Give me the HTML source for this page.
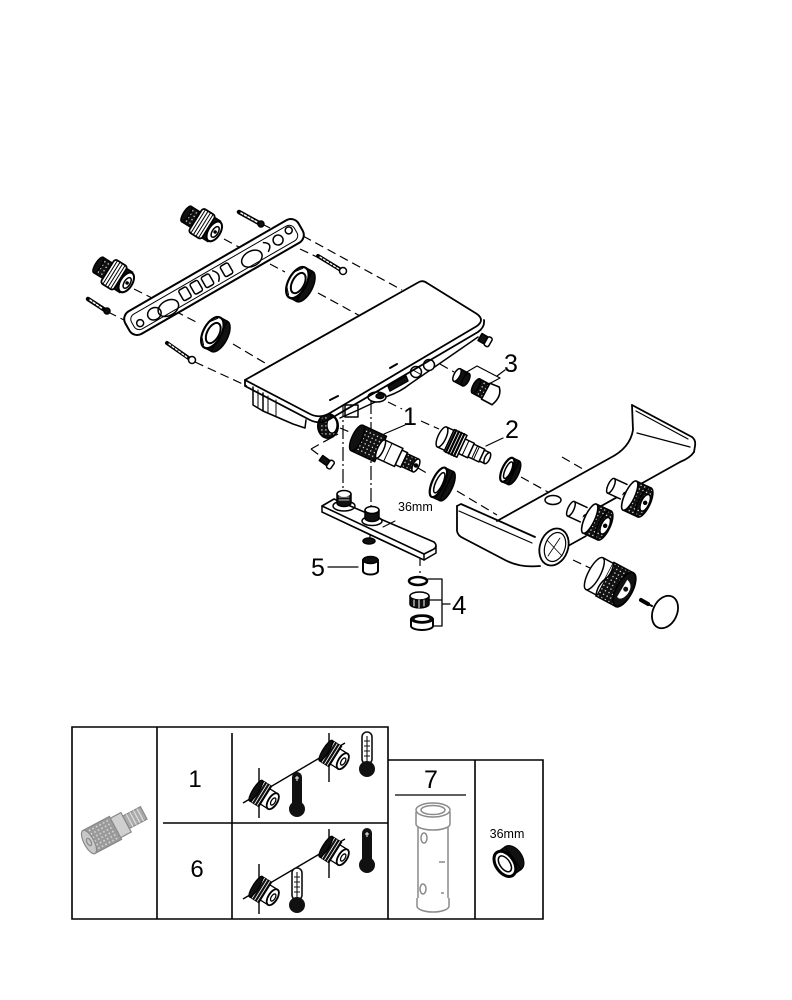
<!DOCTYPE html>
<html><head><meta charset="utf-8"><style>
html,body{margin:0;padding:0;background:#fff;}
svg{display:block;}
text{font-family:"Liberation Sans",Arial,sans-serif;}
</style></head><body>
<svg width="792" height="1000" viewBox="0 0 792 1000" xmlns="http://www.w3.org/2000/svg">
<defs>
<pattern id="kn" width="4" height="4" patternUnits="userSpaceOnUse"><rect width="4" height="4" fill="#111"/><rect x="1.3" y="1.3" width="1.2" height="1.2" fill="#fff"/></pattern>
<pattern id="kng" width="4" height="4" patternUnits="userSpaceOnUse"><rect width="4" height="4" fill="#9a9a9a"/><rect x="1.2" y="1.2" width="1.5" height="1.5" fill="#e0e0e0"/></pattern>
</defs>

<!-- dashed construction lines -->
<g fill="none" stroke="#000" stroke-width="1.2" stroke-dasharray="9 5">
<path d="M224,239 L252,254"/>
<path d="M270,264 L285,272"/>
<path d="M318,293 L362,317"/>
<path d="M134,289 L152,298"/>
<path d="M175,311 L198,323"/>
<path d="M233,344 L270,366"/>
<path d="M262,224 L282,234"/>
<path d="M303,236 L402,290"/>
<path d="M300,249 L317,257"/>
<path d="M108,312 L130,323"/>
<path d="M195,362 L247,386"/>
<path d="M440,364 L454,372"/>
<path d="M388,402 L402,409"/>
<path d="M421,421 L439,429"/>
<path d="M340,428 L352,433"/>
<path d="M418,468 L430,475"/>
<path d="M457,491 L497,515"/>
<path d="M521,477 L548,492"/>
<path d="M562,457 L607,483"/>
<path d="M311,449 L338,434"/>
<path d="M311,449 L319,455"/>
<path d="M573,560 L590,568"/>
<path d="M420,557 L420,573"/>
<path d="M370,533 L370,541"/>
</g>
<g fill="none" stroke="#000" stroke-width="1.2" stroke-dasharray="14 3 2 3">
<path d="M343,403 L343,492"/>
<path d="M371,400 L371,508"/>
</g>

<g fill="none" stroke="#000" stroke-width="1.5" stroke-linejoin="round" stroke-linecap="round">

<!-- backplate -->
<g transform="translate(214,277) rotate(-30)">
<rect x="-100" y="-13" width="200" height="26" rx="9" fill="#fff" stroke-width="2"/>
<rect x="-94" y="-8" width="188" height="17" rx="6" stroke-width="1"/>
<circle cx="-87" cy="3" r="3.5"/>
<ellipse cx="-70" cy="2" rx="7" ry="6"/>
<ellipse cx="-55" cy="4" rx="11" ry="7.5"/>
<rect x="-38" y="-6" width="9" height="12" rx="2"/>
<rect x="-25" y="-6" width="9" height="12" rx="2"/>
<rect x="-12" y="-6" width="9" height="12" rx="2"/>
<path d="M2,-6 q6,6 0,12"/>
<rect x="10" y="-6" width="9" height="12" rx="2"/>
<ellipse cx="42" cy="3" rx="11" ry="7.5"/>
<path d="M60,-5 q8,5 0,10"/>
<ellipse cx="74" cy="0" rx="5" ry="5"/>
<circle cx="88" cy="-3" r="3.5"/>
</g>

<!-- fittings A and B -->
<g transform="translate(188,215) rotate(32)">
<rect x="-2" y="-9" width="11" height="18" fill="url(#kn)" stroke="#000"/>
<ellipse cx="-2" cy="0" rx="3" ry="9" fill="#111"/>
<rect x="9" y="-14" width="15" height="28" rx="3" fill="#fff" stroke-width="1.8"/>
<path d="M12,-14 V14 M15,-14 V14 M18,-14 V14 M21,-14 V14" stroke-width="1"/>
<rect x="24" y="-12" width="7" height="24" fill="#111"/>
<ellipse cx="31" cy="0" rx="6" ry="11" fill="#fff" stroke-width="2"/>
<ellipse cx="32" cy="0" rx="3" ry="6"/>
<circle cx="32" cy="0" r="1" fill="#000"/>
</g>
<g transform="translate(100,266) rotate(32)">
<rect x="-2" y="-9" width="11" height="18" fill="url(#kn)" stroke="#000"/>
<ellipse cx="-2" cy="0" rx="3" ry="9" fill="#111"/>
<rect x="9" y="-14" width="15" height="28" rx="3" fill="#fff" stroke-width="1.8"/>
<path d="M12,-14 V14 M15,-14 V14 M18,-14 V14 M21,-14 V14" stroke-width="1"/>
<rect x="24" y="-12" width="7" height="24" fill="#111"/>
<ellipse cx="31" cy="0" rx="6" ry="11" fill="#fff" stroke-width="2"/>
<ellipse cx="32" cy="0" rx="3" ry="6"/>
<circle cx="32" cy="0" r="1" fill="#000"/>
</g>

<!-- screws -->
<g stroke="#000">
<path d="M239,212 L259,223" stroke-width="4.5"/>
<path d="M241,213 L257,222" stroke="#fff" stroke-width="1.5" stroke-dasharray="2 2"/>
<circle cx="261" cy="224" r="3" fill="#111"/>
<path d="M318,256 L341,270" stroke-width="4"/>
<path d="M320,257 L339,269" stroke="#fff" stroke-width="1.3" stroke-dasharray="2 2"/>
<circle cx="343" cy="271" r="3.5" fill="#fff" stroke-width="1.5"/>
<path d="M88,299 L105,310" stroke-width="4.5"/>
<path d="M90,300 L103,309" stroke="#fff" stroke-width="1.5" stroke-dasharray="2 2"/>
<circle cx="107" cy="311" r="3" fill="#111"/>
<path d="M167,343 L190,359" stroke-width="4"/>
<path d="M169,344 L188,358" stroke="#fff" stroke-width="1.3" stroke-dasharray="2 2"/>
<circle cx="192" cy="360" r="3.5" fill="#fff" stroke-width="1.5"/>
</g>

<!-- nuts -->
<g transform="translate(300,284) rotate(28)">
<ellipse cx="5" cy="0" rx="8" ry="17" fill="#111"/>
<rect x="-3" y="-17" width="8" height="34" fill="#111"/>
<ellipse cx="-3" cy="0" rx="9" ry="17" fill="#fff" stroke-width="2.2"/>
<ellipse cx="-2" cy="0" rx="6" ry="11" stroke-width="2"/>
<path d="M-10,-9 L-5,-15 M-10,9 L-5,15" stroke-width="1"/>
</g>
<g transform="translate(215,334) rotate(28)">
<ellipse cx="5" cy="0" rx="8" ry="17" fill="#111"/>
<rect x="-3" y="-17" width="8" height="34" fill="#111"/>
<ellipse cx="-3" cy="0" rx="9" ry="17" fill="#fff" stroke-width="2.2"/>
<ellipse cx="-2" cy="0" rx="6" ry="11" stroke-width="2"/>
<path d="M-10,-9 L-5,-15 M-10,9 L-5,15" stroke-width="1"/>
</g>

<!-- shelf body underside -->
<path d="M253,387 L253,405 L263,411 L263,393" fill="#fff"/>
<path d="M263,411 L293,424 L305,428 L306,420"/>
<path d="M258,390 L258,407" stroke-width="1"/>
<path d="M268,396 L268,412 M276,400 L276,416" stroke-width="1"/>
<ellipse cx="328" cy="426" rx="10" ry="12" fill="url(#kn)" stroke-width="2"/>
<ellipse cx="332" cy="425" rx="5" ry="8" fill="#fff" stroke-width="1.2"/>
<rect x="345" y="405" width="13" height="12" fill="#fff"/>
<path d="M340,418 L358,410 L388,396 Q400,392 410,384 L478,337"/>
<ellipse cx="377" cy="397" rx="9" ry="5" fill="#fff"/>
<ellipse cx="380" cy="396" rx="4" ry="2.5" fill="#111"/>
<path d="M388,386 L406,376 L408,381 L390,391 Z" fill="#111"/>
<circle cx="416" cy="372" r="5.5" fill="#fff"/>
<circle cx="429" cy="365" r="5.5" fill="#fff"/>
<path d="M413,370 L420,374" stroke-width="1"/>

<!-- shelf top -->
<path d="M245,380 L419,282 Q423,280 427,283 L477,314 Q485,320 477,326 L330,413 Q320,419 310,414 Z" fill="#fff" stroke-width="1.8"/>
<path d="M245,380 L245,386 L310,420 Q320,425 330,419 L478,332 Q485,327 484,320" stroke-width="1.8"/>
<path d="M330,400 L338,396 M390,368 L397,364" stroke-width="2"/>

<!-- small screw right of shelf -->
<g transform="translate(480,337) rotate(30)">
<rect x="0" y="-4" width="7" height="8" fill="#111"/>
<rect x="7" y="-5" width="5" height="10" rx="2" fill="#fff" stroke-width="1.5"/>
</g>

<!-- item 3 -->
<g transform="translate(457,375) rotate(28)">
<rect x="0" y="-7" width="10" height="14" fill="#111"/>
<ellipse cx="0" cy="0" rx="3" ry="7" fill="#fff"/>
<ellipse cx="10" cy="0" rx="3" ry="7" fill="#111"/>
</g>
<g transform="translate(476,386) rotate(28)">
<rect x="0" y="-8" width="11" height="16" fill="url(#kn)" stroke="#000"/>
<ellipse cx="0" cy="0" rx="3" ry="8" fill="#111"/>
<path d="M11,-9 L21,-10 Q28,-3 23,9 L11,9 Z" fill="#fff" stroke-width="1.6"/>
</g>
<path d="M465,373 L477,366 L500,378 L487,385 M497,376 L505,370" stroke-width="1.2"/>

<!-- cartridge 1 -->
<g transform="translate(357,438) rotate(25)">
<rect x="0" y="-14" width="26" height="28" fill="url(#kn)" stroke="#000"/>
<ellipse cx="0" cy="0" rx="5" ry="14" fill="#111"/>
<rect x="26" y="-10" width="20" height="20" fill="#fff"/>
<ellipse cx="26" cy="0" rx="3" ry="10" fill="#fff"/>
<path d="M34,-10 V10" stroke-width="1"/>
<rect x="46" y="-8" width="6" height="16" fill="#fff"/>
<rect x="52" y="-7" width="13" height="14" fill="url(#kn)" stroke="#000"/>
<ellipse cx="65" cy="0" rx="3" ry="7" fill="#fff"/>
<circle cx="65" cy="0" r="1.5" fill="#000"/>
</g>

<!-- cartridge 2 -->
<g transform="translate(442,437) rotate(25)">
<rect x="0" y="-11" width="8" height="22" fill="#fff"/>
<ellipse cx="0" cy="0" rx="4" ry="11" fill="#fff"/>
<rect x="8" y="-12" width="14" height="24" fill="#fff"/>
<path d="M10,-12 V12 M13,-12 V12 M16,-12 V12 M19,-12 V12" stroke-width="2.2"/>
<rect x="22" y="-8" width="10" height="16" fill="#fff"/>
<path d="M26,-8 V8" stroke-width="1"/>
<rect x="32" y="-7" width="12" height="14" fill="#fff"/>
<path d="M36,-7 V7 M38,-7 V7" stroke-width="1"/>
<rect x="44" y="-6" width="6" height="12" fill="#fff"/>
<ellipse cx="50" cy="0" rx="2.5" ry="6" fill="#fff"/>
</g>

<!-- ring 36mm -->
<g transform="translate(442,484) rotate(25)">
<ellipse cx="5" cy="0" rx="6" ry="16" fill="#111"/>
<rect x="-4" y="-16" width="9" height="32" fill="#111"/>
<ellipse cx="-4" cy="0" rx="6" ry="16" fill="#fff" stroke-width="2.2"/>
<ellipse cx="-3" cy="0" rx="3.5" ry="11" stroke-width="1.5"/>
</g>
<!-- ring 2 -->
<g transform="translate(510,471) rotate(25)">
<ellipse cx="4" cy="0" rx="5" ry="13" fill="#111"/>
<rect x="-3" y="-13" width="7" height="26" fill="#111"/>
<ellipse cx="-3" cy="0" rx="5" ry="13" fill="#fff" stroke-width="2.2"/>
<ellipse cx="-2" cy="0" rx="3" ry="9" stroke-width="1.5"/>
</g>

<!-- small screw left -->
<g transform="translate(321,458) rotate(35)">
<rect x="0" y="-3" width="9" height="6" fill="#111"/>
<rect x="9" y="-4.5" width="5" height="9" rx="2" fill="#fff" stroke-width="1.5"/>
</g>

<!-- leaders -->
<path d="M405,425 L384,434 M503,438 L486,446" stroke-width="1.2"/>

<!-- spout plate -->
<path d="M322,506 L322,512 L424,560 L436,553 L436,546" fill="#fff"/>
<path d="M322,506 L334,499 L434,542 Q438,546 434,549 L424,554 Z" fill="#fff" stroke-width="1.6"/>
<path d="M322,512 L424,560 L424,554" fill="none"/>
<path d="M383,527 L395,521" stroke-width="1"/>
<!-- fittings on plate -->
<ellipse cx="344" cy="506" rx="11" ry="5"/>
<path d="M337,494 V503 A7,3.5 0 0 0 351,503 V494" fill="#111"/>
<ellipse cx="344" cy="494" rx="7" ry="3.5" fill="#fff"/>
<path d="M339,497 H349 M339,500 H349" stroke="#fff" stroke-width="0.8"/>
<ellipse cx="372" cy="521" rx="10" ry="4.5"/>
<path d="M365,510 V518 A7,3.5 0 0 0 379,518 V510" fill="#111"/>
<ellipse cx="372" cy="510" rx="7" ry="3.5" fill="#fff"/>
<ellipse cx="369" cy="541" rx="6" ry="3" fill="#111"/>

<!-- item 5 -->
<path d="M363,560 V571 A7.5,3.5 0 0 0 378,571 V560" fill="#fff" stroke-width="2"/>
<ellipse cx="370.5" cy="560" rx="7.5" ry="3.5" fill="#111"/>
<path d="M328,567 L358,567" stroke-width="1.2"/>

<!-- item 4 -->
<ellipse cx="418" cy="581" rx="9" ry="4" stroke-width="2.5"/>
<path d="M410,596 V604 A9.5,4 0 0 0 429,604 V596" fill="#111"/>
<ellipse cx="419.5" cy="596" rx="9.5" ry="4" fill="#fff"/>
<path d="M414,600 V606 M419,600 V608 M424,600 V606" stroke="#fff" stroke-width="1"/>
<path d="M411,619 V626 A11,4 0 0 0 433,626 V619" fill="#fff" stroke-width="2"/>
<ellipse cx="422" cy="619" rx="11" ry="4" fill="#111"/>
<ellipse cx="422" cy="619" rx="8" ry="2.5" fill="#fff" stroke-width="1"/>
<path d="M428,579 H442 V626 H433 M429,600 H442 M442,604 H450" stroke-width="1.3"/>

<!-- spout tray -->
<path d="M457,506 L462,503 L497,520 L610,458 Q630,448 633,430 L632,405 L692,437 L695,452 Q690,458 680,462 L575,522 L565,540 L540,566 Q520,568 505,560 L462,538 Q457,535 457,530 Z" fill="#fff" stroke="none"/>
<path d="M632,405 L692,437 Q696,440 695,446 L694,452" stroke-width="1.8"/>
<path d="M636,411 L688,439" stroke-width="1.2"/>
<path d="M632,405 L633,430 Q630,448 610,458 L497,521" stroke-width="1.8"/>
<path d="M637,433 L690,447" stroke-width="1.3"/>
<path d="M694,452 Q690,458 680,462 L578,519" stroke-width="1.8"/>
<path d="M457,506 L461,504 L535,537" stroke-width="1.8"/>
<path d="M459,511 L532,543" stroke-width="1.2"/>
<path d="M457,506 L457,531 Q458,536 463,538 L505,560 Q520,568 540,566" stroke-width="1.8"/>
<path d="M568,546 L586,536" stroke-width="1.6"/>
<!-- outlet ring -->
<ellipse cx="554" cy="547" rx="14" ry="19" transform="rotate(20 554 547)" fill="#fff" stroke-width="1.8"/>
<ellipse cx="555" cy="547" rx="10" ry="15" transform="rotate(20 555 547)" stroke-width="1.2"/>
<path d="M547,540 L562,556 M548,556 L560,538" stroke-width="0.8"/>
<!-- hole -->
<ellipse cx="553" cy="500" rx="8" ry="4.5" fill="#fff"/>

<!-- valve 1 -->
<g transform="translate(580,513) rotate(25)">
<rect x="-10" y="-8" width="14" height="16" fill="#fff" stroke="none"/>
<path d="M-10,-8 H4 M-10,8 H4"/>
<ellipse cx="-10" cy="0" rx="3" ry="8" fill="#fff"/>
</g>
<g transform="translate(597,522) rotate(25)">
<rect x="-8" y="-16" width="16" height="32" fill="url(#kn)" stroke="#000"/>
<ellipse cx="-8" cy="0" rx="5" ry="16" fill="#fff" stroke-width="1.6"/>
<ellipse cx="8" cy="0" rx="6" ry="16" fill="url(#kn)" stroke="#000"/>
<ellipse cx="9" cy="0" rx="4" ry="9" fill="#fff"/>
<circle cx="9" cy="0" r="1.5" fill="#000"/>
</g>
<!-- valve 2 -->
<g transform="translate(620,490) rotate(25)">
<rect x="-10" y="-8" width="14" height="16" fill="#fff" stroke="none"/>
<path d="M-10,-8 H4 M-10,8 H4"/>
<ellipse cx="-10" cy="0" rx="3" ry="8" fill="#fff"/>
</g>
<g transform="translate(637,499) rotate(25)">
<rect x="-8" y="-16" width="16" height="32" fill="url(#kn)" stroke="#000"/>
<ellipse cx="-8" cy="0" rx="5" ry="16" fill="#fff" stroke-width="1.6"/>
<ellipse cx="8" cy="0" rx="6" ry="16" fill="url(#kn)" stroke="#000"/>
<ellipse cx="9" cy="0" rx="4" ry="9" fill="#fff"/>
<circle cx="9" cy="0" r="1.5" fill="#000"/>
</g>

<!-- handle knob -->
<g transform="translate(612,583) rotate(28)">
<rect x="-20" y="-18" width="12" height="36" fill="#fff" stroke="none"/>
<path d="M-20,-18 H-8 M-20,18 H-8" />
<ellipse cx="-20" cy="0" rx="6" ry="18" fill="#fff"/>
<rect x="-8" y="-19" width="22" height="38" fill="url(#kn)" stroke="#000"/>
<path d="M-8,-19 Q-4,-8 -8,0 Q-12,10 -8,19" fill="#fff"/>
<ellipse cx="14" cy="0" rx="8" ry="19" fill="#111" stroke-width="1.8"/>
<path d="M12,-10 Q20,-8 19,2 Q17,12 11,10 Z" fill="#fff" stroke="none"/>
<circle cx="15" cy="-1" r="2.5" fill="#111" stroke="none"/>
</g>
<path d="M641,600 L648,604" stroke-width="4"/>
<path d="M648,604 L652,606" stroke-width="2"/>
<ellipse cx="665" cy="612" rx="12" ry="17" transform="rotate(25 665 612)" stroke-width="1.8"/>

</g>

<!-- labels -->
<g font-family="Liberation Sans, Arial, sans-serif" fill="#000">
<text x="403" y="425" font-size="25">1</text>
<text x="505" y="438" font-size="25">2</text>
<text x="504" y="372" font-size="25">3</text>
<text x="452" y="614" font-size="26">4</text>
<text x="311" y="576" font-size="25">5</text>
<text x="398" y="511" font-size="12.5">36mm</text>
</g>

<!-- table -->
<g fill="none" stroke="#000" stroke-width="1.6">
<path d="M72,727 H388 V919 H72 Z"/>
<path d="M157,727 V919"/>
<path d="M232,733 V919"/>
<path d="M163,823 H388"/>
<path d="M388,760 H543 V919 H388"/>
<path d="M475,760 V919"/>
<path d="M395,795 H466" stroke-width="1.2"/>
</g>
<g font-family="Liberation Sans, Arial, sans-serif" fill="#000" text-anchor="middle">
<text x="195" y="787" font-size="24">1</text>
<text x="197" y="877" font-size="24">6</text>
<text x="431" y="788" font-size="25">7</text>
<text x="507" y="838" font-size="12.5">36mm</text>
</g>

<!-- gray cartridge icon -->
<g transform="translate(89,842) rotate(-28)" stroke="#888" stroke-width="1.2">
<rect x="0" y="-13" width="30" height="26" fill="url(#kng)"/>
<ellipse cx="0" cy="0" rx="5" ry="13" fill="#c8c8c8"/>
<ellipse cx="0" cy="0" rx="2" ry="4" fill="none"/>
<rect x="30" y="-11" width="12" height="22" fill="#d0d0d0"/>
<rect x="42" y="-7" width="20" height="14" fill="#aaa"/>
<path d="M46,-7 V7 M50,-7 V7 M54,-7 V7 M58,-7 V7" stroke="#ddd"/>
</g>

<!-- thermostat cells -->
<g fill="none" stroke="#000" stroke-width="1.4">
<path d="M243,803 L345,743"/>
<path d="M259,768 V818 M329,733 V782"/>
<path d="M243,899 L345,839"/>
<path d="M259,864 V914 M329,829 V878"/>
</g>
<g stroke="#000" stroke-width="1.3">
<g transform="translate(266,797) rotate(32)">
<rect x="-12" y="-12" width="11" height="24" fill="#111"/>
<path d="M-9,-12 V12 M-6,-12 V12 M-3,-12 V12" stroke="#fff" stroke-width="0.8"/>
<ellipse cx="-12" cy="0" rx="3" ry="12" fill="#111"/>
<rect x="-1" y="-9" width="9" height="18" fill="#fff"/>
<ellipse cx="8" cy="0" rx="4.5" ry="9" fill="#fff" stroke-width="1.8"/>
<ellipse cx="8.5" cy="0" rx="2" ry="4" fill="none"/>
</g>
<g transform="translate(336,757) rotate(32)">
<rect x="-12" y="-12" width="11" height="24" fill="#111"/>
<path d="M-9,-12 V12 M-6,-12 V12 M-3,-12 V12" stroke="#fff" stroke-width="0.8"/>
<ellipse cx="-12" cy="0" rx="3" ry="12" fill="#111"/>
<rect x="-1" y="-9" width="9" height="18" fill="#fff"/>
<ellipse cx="8" cy="0" rx="4.5" ry="9" fill="#fff" stroke-width="1.8"/>
<ellipse cx="8.5" cy="0" rx="2" ry="4" fill="none"/>
</g>
<g transform="translate(266,893) rotate(32)">
<rect x="-12" y="-12" width="11" height="24" fill="#111"/>
<path d="M-9,-12 V12 M-6,-12 V12 M-3,-12 V12" stroke="#fff" stroke-width="0.8"/>
<ellipse cx="-12" cy="0" rx="3" ry="12" fill="#111"/>
<rect x="-1" y="-9" width="9" height="18" fill="#fff"/>
<ellipse cx="8" cy="0" rx="4.5" ry="9" fill="#fff" stroke-width="1.8"/>
<ellipse cx="8.5" cy="0" rx="2" ry="4" fill="none"/>
</g>
<g transform="translate(336,853) rotate(32)">
<rect x="-12" y="-12" width="11" height="24" fill="#111"/>
<path d="M-9,-12 V12 M-6,-12 V12 M-3,-12 V12" stroke="#fff" stroke-width="0.8"/>
<ellipse cx="-12" cy="0" rx="3" ry="12" fill="#111"/>
<rect x="-1" y="-9" width="9" height="18" fill="#fff"/>
<ellipse cx="8" cy="0" rx="4.5" ry="9" fill="#fff" stroke-width="1.8"/>
<ellipse cx="8.5" cy="0" rx="2" ry="4" fill="none"/>
</g>
</g>

<!-- thermometers -->
<g>
<rect x="292" y="772" width="10" height="36" rx="5" fill="#111"/>
<circle cx="297" cy="809" r="8" fill="#111"/>
<path d="M297,776 V781 M295,778 H299" stroke="#fff" stroke-width="1"/>
<rect x="362" y="732" width="10" height="32" rx="5" fill="#fff" stroke="#111" stroke-width="1.6"/>
<circle cx="367" cy="769" r="8" fill="#111"/>
<path d="M367,736 V764 M364,741 H370 M364,746 H370 M364,751 H370 M364,756 H370" stroke="#111" stroke-width="1.1"/>
<rect x="362" y="828" width="10" height="36" rx="5" fill="#111"/>
<circle cx="367" cy="865" r="8" fill="#111"/>
<path d="M367,832 V837 M365,834 H369" stroke="#fff" stroke-width="1"/>
<rect x="292" y="868" width="10" height="32" rx="5" fill="#fff" stroke="#111" stroke-width="1.6"/>
<circle cx="297" cy="905" r="8" fill="#111"/>
<path d="M297,872 V900 M294,877 H300 M294,882 H300 M294,887 H300 M294,892 H300" stroke="#111" stroke-width="1.1"/>
</g>

<!-- tool 7 -->
<g fill="#fff" stroke="#8a8a8a" stroke-width="1.5">
<path d="M418,812 V900 A15,6 0 0 0 448,900 V812"/>
<path d="M416,812 V824 A17,6 0 0 0 450,824 V812"/>
<ellipse cx="433" cy="810" rx="17" ry="7"/>
<ellipse cx="433" cy="810" rx="12" ry="4.5"/>
<path d="M417,898 V906 A16,6 0 0 0 449,906 V898"/>
<ellipse cx="424" cy="838" rx="3" ry="5"/>
<ellipse cx="423" cy="889" rx="3" ry="5"/>
<path d="M439,862 h6 M441,893 h3" />
</g>

<!-- 36mm ring icon -->
<g transform="translate(509,861) rotate(-35)" stroke="#000">
<ellipse cx="5" cy="0" rx="9" ry="14" fill="#111"/>
<rect x="-5" y="-14" width="10" height="28" fill="#111"/>
<ellipse cx="-5" cy="0" rx="9" ry="14" fill="#fff" stroke-width="3"/>
<ellipse cx="-5" cy="0" rx="5" ry="9" fill="#fff" stroke-width="1.5"/>
</g>

</svg>
</body></html>
